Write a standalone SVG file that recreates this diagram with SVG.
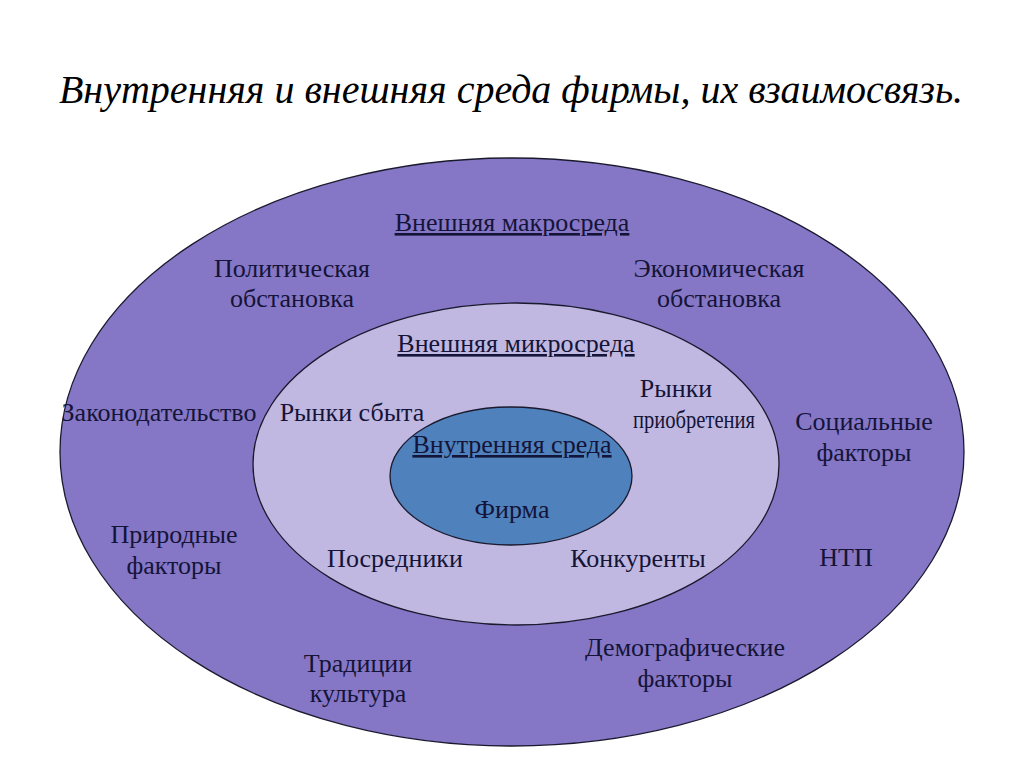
<svg xmlns="http://www.w3.org/2000/svg" width="1024" height="768" viewBox="0 0 1024 768">
<style>
.t{font-family:"Liberation Serif","Times New Roman",serif;font-size:26px;fill:#141438;text-anchor:middle}
.u{text-decoration:underline}
.e{stroke:#1a1a2e;stroke-width:1.3}
</style>
<rect width="1024" height="768" fill="#ffffff"/>
<text x="511" y="103" font-family="Liberation Serif,serif" font-style="italic" font-size="40" fill="#000" text-anchor="middle">Внутренняя и внешняя среда фирмы, их взаимосвязь.</text>
<g id="macro">
<ellipse class="e" cx="512" cy="452" rx="452" ry="294" fill="#8577C6"/>
<text class="t u" x="512" y="231">Внешняя макросреда</text>
<text class="t" x="292" y="277">Политическая</text>
<text class="t" x="292" y="307">обстановка</text>
<text class="t" x="719" y="277">Экономическая</text>
<text class="t" x="719" y="307">обстановка</text>
<text class="t" x="159" y="421">Законодательство</text>
<text class="t" x="864" y="430">Социальные</text>
<text class="t" x="864" y="461">факторы</text>
<text class="t" x="174" y="543">Природные</text>
<text class="t" x="174" y="574">факторы</text>
<text class="t" x="846" y="566">НТП</text>
<text class="t" x="358" y="672">Традиции</text>
<text class="t" x="358" y="702">культура</text>
<text class="t" x="685" y="656">Демографические</text>
<text class="t" x="685" y="687">факторы</text>
</g>
<g id="micro">
<ellipse class="e" cx="516" cy="464" rx="263" ry="161" fill="#C0B8E0"/>
<text class="t u" x="516" y="352">Внешняя микросреда</text>
<text class="t" x="352" y="421">Рынки сбыта</text>
<text class="t" x="676" y="397">Рынки</text>
<text class="t" x="694" y="428" textLength="122" lengthAdjust="spacingAndGlyphs">приобретения</text>
<text class="t" x="395" y="567">Посредники</text>
<text class="t" x="638" y="567">Конкуренты</text>
</g>
<g id="firm">
<ellipse class="e" cx="511" cy="476" rx="121" ry="69" fill="#4F81BD"/>
<text class="t u" x="512" y="453">Внутренняя среда</text>
<text class="t" x="512" y="518" font-size="31">Фирма</text>
</g>
<g id="connectors"/>
</svg>
